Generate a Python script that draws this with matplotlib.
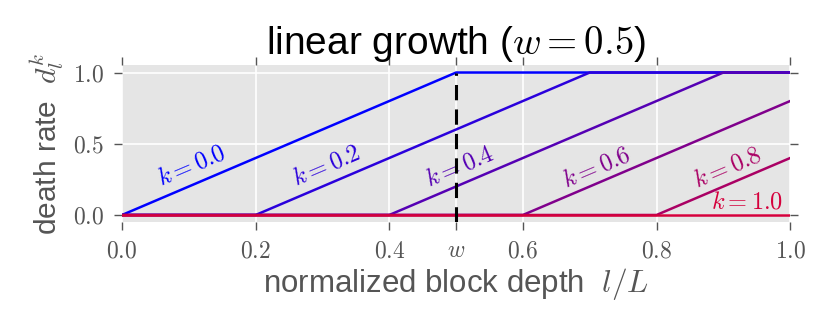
import matplotlib
matplotlib.use('Agg')
import matplotlib.pyplot as plt

# data
k_values = [0.0, 0.2, 0.4, 0.6, 0.8, 1.0]
line_x = [[0.0, 0.0, 0.5, 1.0],
          [0.0, 0.2, 0.7, 1.0],
          [0.0, 0.4, 0.9, 1.0],
          [0.0, 0.6, 1.0],
          [0.0, 0.8, 1.0],
          [0.0, 1.0]]
line_y = [[0.0, 0.0, 1.0, 1.0],
          [0.0, 0.0, 1.0, 1.0],
          [0.0, 0.0, 1.0, 1.0],
          [0.0, 0.0, 0.8],
          [0.0, 0.0, 0.4],
          [0.0, 0.0]]
colors = ['#0000ff', '#2a00dc', '#5500b4', '#80008c', '#aa0064', '#d5003c']
label_x = [0.105, 0.307, 0.506, 0.711, 0.906, 0.935]
label_y = [0.34, 0.34, 0.34, 0.33, 0.33, 0.09]
label_rot = [23, 23, 23, 23, 23, 0]
x_ticks = [0.0, 0.2, 0.4, 0.5, 0.6, 0.8, 1.0]
x_ticklabels = ['$0.0$', '$0.2$', '$0.4$', '$w$', '$0.6$', '$0.8$', '$1.0$']
y_ticks = [0.0, 0.5, 1.0]
y_ticklabels = ['$0.0$', '$0.5$', '$1.0$']
w = 0.5

plt.rcParams['mathtext.fontset'] = 'cm'
plt.rcParams['font.family'] = ['Liberation Sans', 'DejaVu Sans']

fig = plt.figure(figsize=(8.3, 3.32), dpi=100)
ax = fig.add_axes([0.147, 0.331, 0.805, 0.472])
ax.set_facecolor('#e5e5e5')
for s in ax.spines.values():
    s.set_visible(False)
ax.grid(True, color='white', lw=1.2)
ax.set_axisbelow(True)

for i, k in enumerate(k_values):
    ax.plot(line_x[i], line_y[i], color=colors[i], lw=1.8, zorder=3)
    ax.text(label_x[i], label_y[i], '$k=%.1f$' % k, color=colors[i], fontsize=17.5,
            rotation=label_rot[i], rotation_mode='anchor', ha='center', va='center', zorder=4)

ax.plot([w, w], [-0.05, 1.0], color='black', lw=2.2, ls=(0, (5, 3)), zorder=5)

ax.set_xlim(0, 1)
ax.set_ylim(-0.05, 1.05)
ax.set_xticks(x_ticks)
ax.set_xticklabels(x_ticklabels)
ax.set_yticks(y_ticks)
ax.set_yticklabels(y_ticklabels)
ax.tick_params(direction='out', length=6, width=1, color='#555555', labelcolor='#555555',
               labelsize=17, top=True, right=True, pad=7)

ax.set_title('linear growth ($w=0.5$)', fontsize=28, pad=8)
ax.set_xlabel('normalized block depth  $l/L$', fontsize=22.5, color='#555555', labelpad=3)
ax.set_ylabel('death rate  $d_l^k$', fontsize=21.5, color='#555555', labelpad=5)

plt.savefig('out.png', dpi=100)
